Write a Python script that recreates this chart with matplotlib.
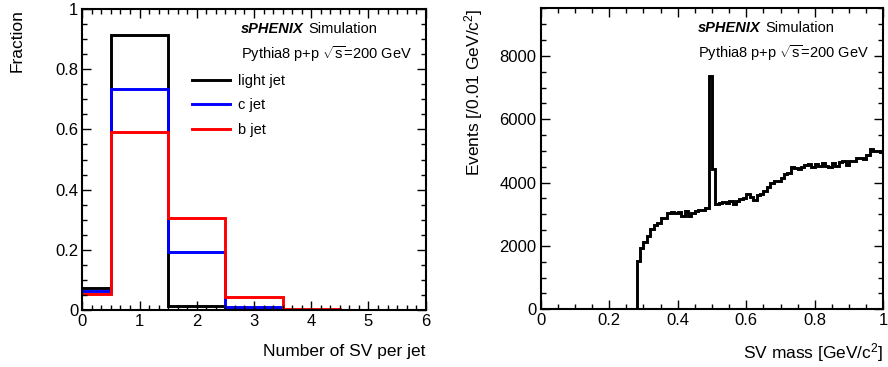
import numpy as np
import matplotlib
matplotlib.use("Agg")
import matplotlib.pyplot as plt
from matplotlib.lines import Line2D
from matplotlib.ticker import MultipleLocator, FuncFormatter

plt.rcParams['font.family'] = ['Liberation Sans', 'DejaVu Sans']
plt.rcParams['mathtext.fontset'] = 'custom'
plt.rcParams['mathtext.rm'] = 'Liberation Sans'
plt.rcParams['mathtext.it'] = 'Liberation Sans:italic'

# number of secondary vertices per jet (fractions)
n_sv = np.array([0, 1, 2, 3, 4, 5, 6])
light_frac = [0.074, 0.914, 0.014, 0.002, 0.0, 0.0, 0.0]
c_frac = [0.063, 0.734, 0.194, 0.010, 0.001, 0.0, 0.0]
b_frac = [0.054, 0.593, 0.307, 0.043, 0.003, 0.0005, 0.0]

# SV mass spectrum, 0.01 GeV/c^2 bins from 0 to 1
mass_edges = np.linspace(0, 1, 101)
mass_counts = [0] * 28 + [
    1510, 1930, 2120, 2300, 2540, 2670, 2740, 2880, 2890, 3050,
    3060, 3030, 3070, 2960, 3090, 2930, 3030, 3110, 3150, 3140,
    3190, 7350, 4420, 3310, 3370, 3380, 3370, 3420, 3340, 3410,
    3490, 3500, 3630, 3560, 3450, 3620, 3640, 3720, 3850, 3980,
    4060, 4040, 4130, 4270, 4300, 4480, 4450, 4430, 4480, 4540,
    4590, 4500, 4600, 4510, 4630, 4530, 4500, 4610, 4510, 4650,
    4670, 4560, 4690, 4690, 4780, 4790, 4760, 4870, 5060, 5010,
    5010, 4970]

fmt = FuncFormatter(lambda v, p: '%g' % v)
lw = 2.1


def root_style(ax):
    ax.tick_params(which='both', direction='in', top=True, right=True,
                   labelsize=12, width=1.0)
    ax.tick_params(which='major', length=6.5, pad=3)
    ax.tick_params(which='minor', length=3.6)
    for s in ax.spines.values():
        s.set_linewidth(1.5)
    ax.xaxis.set_major_formatter(fmt)
    ax.yaxis.set_major_formatter(fmt)


def header(ax, x, y):
    t = ax.text(x, y, 'sPHENIX', transform=ax.transAxes, fontsize=10.5,
                fontweight='bold', fontstyle='italic', va='center')
    ax.annotate('Simulation', xy=(1, 0), xycoords=t, xytext=(3, 0),
                textcoords='offset points', fontsize=10.5, va='bottom')
    ax.text(x, y - 0.083, r'Pythia8 p+p $\sqrt{\mathrm{s}}$=200 GeV',
            transform=ax.transAxes, fontsize=10.5, va='center')


fig = plt.figure(figsize=(8.88, 3.67), dpi=100)
ax1 = fig.add_axes([0.0927, 0.1553, 0.3867, 0.820])
ax2 = fig.add_axes([0.6089, 0.1572, 0.3858, 0.820])

# left panel
edges = np.append(n_sv - 0.5, n_sv[-1] + 0.5)
ax1.stairs(light_frac, edges, baseline=0, color='black', lw=lw)
ax1.stairs(c_frac, edges, baseline=0, color='blue', lw=lw)
ax1.stairs(b_frac, edges, baseline=0, color='red', lw=lw)
ax1.set_xlim(0, 6)
ax1.set_ylim(0, 1)
ax1.xaxis.set_major_locator(MultipleLocator(1))
ax1.xaxis.set_minor_locator(MultipleLocator(1 / 6))
ax1.yaxis.set_major_locator(MultipleLocator(0.2))
ax1.yaxis.set_minor_locator(MultipleLocator(0.05))
root_style(ax1)
ax1.set_xlabel('Number of SV per jet', loc='right', fontsize=12.5, labelpad=11)
ax1.set_ylabel('Fraction', loc='top', fontsize=12.5)
ax1.yaxis.set_label_coords(-0.167, 1.0)
header(ax1, 0.462, 0.935)
handles = [Line2D([], [], color=c, lw=lw) for c in ('black', 'blue', 'red')]
ax1.legend(handles, ['light jet', 'c jet', 'b jet'], loc='upper left',
           bbox_to_anchor=(0.3195, 0.785), frameon=False, fontsize=10.5,
           handlelength=2.6, handletextpad=0.55, labelspacing=0.72,
           borderpad=0, borderaxespad=0)

# right panel
ax2.stairs(mass_counts, mass_edges, baseline=0, color='black', lw=lw)
ax2.set_xlim(0, 1)
ax2.set_ylim(0, 9500)
ax2.xaxis.set_major_locator(MultipleLocator(0.2))
ax2.xaxis.set_minor_locator(MultipleLocator(0.05))
ax2.yaxis.set_major_locator(MultipleLocator(2000))
ax2.yaxis.set_minor_locator(MultipleLocator(500))
root_style(ax2)
ax2.set_xlabel('SV mass [GeV/c$^2$]', loc='right', fontsize=12.5, labelpad=9)
ax2.set_ylabel('Events [/0.01 GeV/c$^2$]', loc='top', fontsize=12.5)
ax2.yaxis.set_label_coords(-0.163, 1.0)
header(ax2, 0.459, 0.935)

fig.savefig('out.png', dpi=100)
